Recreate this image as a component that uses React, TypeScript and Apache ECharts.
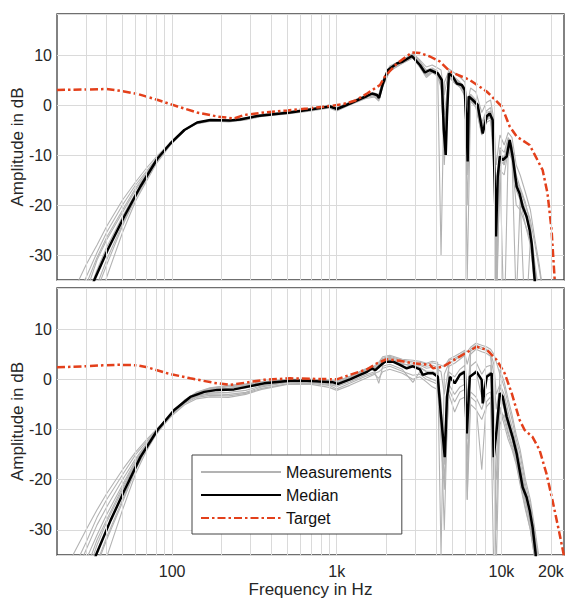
import React, { useEffect, useRef } from 'react';
import * as echarts from 'echarts';

// Shared frequency grid (Hz) for the individual measurements
const FREQ_M = [20, 25, 30, 35, 40, 50, 60, 70, 80, 100, 120, 140, 170, 220, 280, 350, 500, 700, 900, 1000, 1200, 1500, 1700, 1800, 1900, 2100, 2500, 2900, 3200, 3500, 3800, 4100, 4300, 4500, 4800, 5200, 5600, 6000, 6200, 6500, 7000, 7600, 8100, 8600, 9000, 9300, 9800, 10400, 11000, 11600, 12300, 13000, 14000, 15000, 16000, 17000, 18000, 20000];

// Top panel measurements (dB)
const TOP_M1 = [-43, -37.5, -32, -28, -24.3, -19, -15.4, -12.6, -10.4, -7.2, -5.0, -3.8, -3.3, -3.3, -2.9, -2.2, -1.6, -1.0, -0.4, -0.9, 0.2, 1.5, 2.3, 1.8, 4.8, 7.6, 8.8, 10.0, 8.6, 7.0, 7.4, 6.8, -30, 4.5, 6.8, 5.5, 4.6, 3.5, -20, 2.2, 1.0, -3.5, -1.2, -0.5, -5, -35, -9, -12, -7, -8.5, -15, -17, -20, -23, -28, -33, -38, -45];
const TOP_M2 = [-60, -54, -47, -40, -34.5, -25.5, -19.2, -15.2, -11.8, -7.6, -5.0, -3.6, -3.0, -3.0, -2.6, -1.9, -1.4, -0.8, -0.2, -0.6, 0.5, 1.9, 2.2, 1.2, 4.0, 7.0, 8.4, 9.6, 7.8, 6.0, 6.6, 5.8, 3.5, -8, 5.8, 4.4, 3.6, 2.0, -35, 0.8, -0.5, -6, -3.5, -3, -12, -40, -13, -14, -9, -11, -20, -21, -24, -28, -36, -42, -48, -55];
const TOP_M3 = [-50, -44, -37.5, -31, -27, -21.5, -17, -13.8, -11, -7.4, -5.0, -3.7, -3.1, -3.2, -2.8, -2.1, -1.5, -0.9, -0.2, -0.7, 0.4, 1.6, 1.8, 1.0, 3.8, 6.8, 8.4, 9.5, 7.5, 5.5, 6.5, 5.8, 4.2, -4, 6.0, 4.6, 3.8, 2.5, -8, 1.8, 0.8, -4, -1.5, -1.2, -6, -22, -8.5, -9.5, -6.5, -8, -14, -16.5, -19.5, -24, -32, -38, -44, -50];
const TOP_M4 = [-58, -51, -44, -37, -32, -24.2, -18.6, -14.8, -11.5, -7.5, -4.9, -3.5, -2.9, -3.0, -2.6, -1.9, -1.3, -0.7, 0.0, -0.5, 0.6, 2.0, 2.4, 2.0, 4.6, 7.5, 8.7, 10.2, 8.8, 6.8, 7.2, 6.5, 5.2, -10, 6.5, 5.2, 4.4, 3.2, -14, 1.2, 0.2, -6, -2.8, -2.2, -10, -30, -12, -45, -9, -10.5, -40, -19, -24, -27, -38, -44, -50, -55];
const TOP_M5 = [-46, -40, -34.5, -29.5, -25.5, -20, -16, -13.2, -10.8, -7.3, -4.9, -3.7, -3.2, -3.4, -3.0, -2.3, -1.8, -1.2, -0.6, -1.2, 0.0, 1.3, 1.6, 0.8, 3.6, 6.8, 8.3, 9.4, 7.6, 5.8, 6.6, 5.9, 4.0, -2, 5.6, 4.4, 3.6, 1.8, -6, 0.9, -0.3, -5.5, -3, -2.5, -9, -20, -11, -12, -8.5, -10, -17, -19, -45, -27, -34, -40, -46, -52];
const TOP_M6 = [-56, -49, -42.5, -36, -31, -23.8, -18.4, -14.6, -11.4, -7.4, -4.9, -3.6, -3.0, -3.1, -2.7, -2.0, -1.4, -0.8, -0.2, -0.7, 0.4, 1.8, 2.1, 1.5, 4.4, 7.3, 8.6, 9.9, 8.3, 6.5, 7.1, 6.4, 5.5, -12, 6.2, 5.0, 4.1, 3.0, -9, 1.6, 0.6, -4.5, -2, -1.5, -7, -45, -10, -10.5, -7.5, -9.2, -16, -18, -21, -25, -33, -39, -45, -50];
const TOP_M7 = [-52, -45.5, -39, -33, -28.5, -22.3, -17.6, -14.2, -11.1, -7.3, -4.9, -3.6, -3.0, -3.1, -2.7, -2.0, -1.5, -0.9, -0.3, -0.8, 0.3, 1.7, 2.0, 1.4, 4.2, 7.1, 8.5, 9.8, 8.0, 6.2, 6.8, 6.0, 4.6, -6, 6.0, 4.8, 3.9, 2.6, -12, 1.3, 0.3, -5, -2.4, -1.8, -8, -26, -10.5, -11, -8, -9.8, -16.5, -18, -22, -25.5, -35, -40, -46, -52];
const TOP_M8 = [-48, -42, -36, -30.5, -26.5, -21, -16.6, -13.5, -10.9, -7.3, -5.0, -3.7, -3.1, -3.2, -2.8, -2.1, -1.5, -0.9, -0.3, -0.8, 0.4, 1.8, 2.2, 1.9, 4.9, 7.8, 9.0, 10.3, 9.0, 7.6, 8.0, 7.4, 7.0, 2, 7.2, 6.4, 5.6, 4.6, 0, 3.4, 2.6, -1.5, 0.5, 1.0, -3, -12, -6, -8, -5.5, -6.5, -12, -14, -17.5, -21, -27, -32, -38, -45];
const TOP_MEASUREMENTS = [TOP_M1, TOP_M2, TOP_M3, TOP_M4, TOP_M5, TOP_M6, TOP_M7, TOP_M8];

// Bottom panel measurements (dB)
const BOT_M1 = [-41, -35, -30, -26, -22.8, -18, -14.5, -12, -10, -6.8, -4.2, -2.7, -1.8, -1.3, -1.0, -0.6, -0.1, -0.1, -0.3, -0.5, 0.4, 1.9, 2.5, 3.0, 4.2, 4.6, 3.8, 3.5, 3.4, 3.0, 3.3, 3.0, 2.8, 2.5, 4.0, 4.6, 5.2, 5.8, 5.5, 6.4, 7.2, 6.8, 6.5, 6.0, 5.0, 3.5, 1.0, -1.5, -5, -8, -12, -15, -21, -25, -31, -37, -43, -50];
const BOT_M2 = [-46, -40, -34, -29, -25.5, -20, -15.8, -12.8, -10.3, -6.7, -4.1, -2.6, -1.7, -1.2, -0.9, -0.5, 0.0, 0.0, -0.2, -0.4, 0.5, 2.0, 2.3, 2.8, 4.0, 4.4, 3.6, 3.2, 3.0, 2.6, 2.8, 2.4, -35, 1.0, 3.2, 3.8, 4.6, 5.2, 3.0, 5.6, 6.5, 6.0, 5.8, 5.2, 3.0, -3, -1.0, -3.0, -6.5, -9.5, -13, -16.5, -22, -26, -32, -38, -44, -50];
const BOT_M3 = [-52, -46, -39.5, -33, -28.5, -22, -16.8, -13.2, -10.8, -7.2, -5.0, -3.9, -3.5, -3.6, -3.0, -2.0, -1.0, -1.0, -1.6, -2.2, -1.2, 0.2, 1.0, 0.2, 1.5, 2.0, 1.2, 0.0, 0.5, -0.5, -1.5, -2.0, -9, -20, -3.0, -6.5, -4.0, -3.5, -24, -5.0, -6.0, -8, -5.5, -4.5, -18, -38, -6, -9, -12, -14, -17, -21, -26, -30, -36, -42, -48, -55];
const BOT_M4 = [-58, -51, -44, -37, -32, -24.5, -18, -13.8, -10.8, -6.8, -4.4, -3.4, -2.9, -3.0, -2.6, -1.5, -0.6, -0.6, -1.0, -1.4, -0.5, 0.9, 1.5, -0.8, 2.6, 3.0, 2.0, -0.6, 1.5, 0.5, 0.0, -0.5, -4, -17, -1.0, -3.0, -1.5, -1.0, -16, -2.5, -3.5, -6, -3.0, -2.5, -14, -20, -9, -7, -10.5, -13, -16, -20, -24, -29, -35, -41, -47, -55];
const BOT_M5 = [-48, -42, -36, -31, -27, -21, -16.2, -13, -10.6, -6.9, -4.5, -3.3, -2.7, -2.6, -2.2, -1.3, -0.5, -0.4, -0.8, -1.1, -0.1, 1.4, 2.0, 2.6, 3.6, 4.0, 3.0, 2.8, 2.4, 1.6, 1.6, 1.0, -6, -12, 1.5, 0.5, 2.0, 2.8, -8, 2.6, 3.5, 1.0, 2.5, 2.8, -10, -12, -3, -6, -9.5, -12, -15.5, -19.5, -24.5, -28.5, -35, -40, -46, -52];
const BOT_M6 = [-62, -55, -48, -41, -35.5, -26, -18.8, -14.2, -11.0, -6.7, -4.0, -2.8, -2.1, -1.8, -1.3, -0.7, -0.2, -0.2, -0.5, -0.8, 0.2, 1.6, 2.1, 2.5, 3.4, 3.8, 3.0, 2.8, 2.3, 1.5, 1.3, 0.8, -8, -15, 0.8, -0.8, 1.2, 1.8, -12, 0.6, 1.8, -3.5, 0.8, 1.5, -20, -8, -2.5, -5, -8, -11, -14, -18, -22.5, -27, -33, -39, -45, -52];
const BOT_M7 = [-55, -49, -43, -36.5, -31.5, -24, -17.8, -13.6, -10.9, -7.0, -4.7, -3.6, -3.2, -3.3, -2.8, -1.8, -0.9, -0.8, -1.2, -1.9, -0.8, 0.6, 1.2, 1.5, 2.2, 2.6, 1.6, 0.8, 1.0, 0.0, -0.5, -1.0, -12, -22, -2.0, -4.5, -2.5, -2.0, -20, -3.5, -4.5, -18, -4.5, -3.5, -40, -16, -5.5, -8, -11, -13.5, -16.5, -20.5, -25.5, -30, -36, -42, -48, -55];
const BOT_M8 = [-44, -38, -32.5, -27.5, -24, -19, -15, -12.4, -10.1, -6.8, -4.2, -2.8, -1.9, -1.5, -1.2, -0.7, -0.1, 0.0, -0.2, -0.4, 0.6, 2.1, 2.7, 3.4, 4.5, 4.8, 4.0, 3.8, 3.6, 3.2, 3.6, 3.4, -10, -30, 3.8, 4.2, 4.8, 5.5, -24, 6.0, 6.8, 6.4, 6.0, 5.4, -8, -30, 2.0, -0.5, -4, -7, -11, -14, -20, -24, -30, -36, -42, -50];
const BOT_M9 = [-50, -44, -38, -32, -28, -21.5, -16.5, -13.1, -10.6, -6.9, -4.3, -3.0, -2.3, -2.1, -1.7, -1.0, -0.3, -0.2, -0.5, -0.7, 0.3, 1.8, 2.4, 2.2, 3.8, 4.2, 3.2, 2.5, 2.8, 2.2, 2.4, 2.0, 1.5, -3, 2.6, 3.2, 4.0, 4.8, -4, 5.0, 6.0, 5.5, 5.2, 4.6, 1.0, -6, -1.5, -4, -7.5, -10.5, -14, -17.5, -23, -27, -33, -39, -45, -52];
const BOT_MEASUREMENTS = [BOT_M1, BOT_M2, BOT_M3, BOT_M4, BOT_M5, BOT_M6, BOT_M7, BOT_M8, BOT_M9];

// Median curves [Hz, dB]
const TOP_MEDIAN: [number, number][] = [[30, -40], [33.7, -35], [40.6, -29], [51.2, -22.3], [64.2, -16.3], [81.5, -10.7], [97.6, -7.7], [118.7, -5], [142, -3.5], [171, -3], [225, -3.1], [259, -2.9], [329, -2.2], [521, -1.5], [660, -1], [911, -0.3], [1004, -0.8], [1204, 0.3], [1385, 1.2], [1528, 1.8], [1638, 2.3], [1756, 2.0], [1806, 1.4], [1908, 4.3], [2047, 7], [2319, 8.3], [2521, 8.7], [2860, 9.8], [3200, 8.0], [3430, 6.5], [3680, 7.0], [4110, 6.3], [4345, 5], [4470, -5], [4590, -10], [4670, -2.3], [4800, 6.3], [5070, 5.7], [5360, 4.3], [5750, 4], [5990, 3], [6160, -5], [6240, -11.3], [6330, 1.7], [6700, 1], [7180, 0], [7700, -5.7], [8140, -2.3], [8490, -1.7], [8850, -3], [9100, -15], [9270, -26.3], [9500, -14.3], [9780, -10.3], [10190, -11], [10770, -10.3], [11230, -7], [11700, -10.3], [12380, -16.3], [12900, -17.7], [13460, -20.3], [14220, -22.3], [14840, -25], [15270, -27.7], [15930, -35], [16500, -40]];
const BOT_MEDIAN: [number, number][] = [[30, -42], [34.5, -35], [42.3, -28.1], [51.4, -22.1], [64.2, -15.5], [81.5, -10.1], [103, -6.1], [129, -3.5], [157, -2.5], [188, -2.1], [238, -2.0], [274, -1.6], [362, -0.8], [521, -0.3], [660, -0.3], [950, -0.6], [1020, -0.9], [1204, 0], [1385, 0.9], [1528, 1.5], [1638, 2.2], [1710, 1.8], [1806, 2.5], [1960, 3.5], [2210, 3.5], [2420, 2.9], [2660, 2.2], [2900, 2.6], [3200, 2.0], [3330, 0.9], [3570, 1.2], [3840, 1.2], [4110, 0.5], [4285, -6.8], [4530, -15.5], [4670, -3.5], [4870, 0.5], [5210, -0.8], [5590, 0.9], [5990, 1.5], [6160, -10.8], [6430, 0.5], [7070, 1.5], [7590, -0.1], [7700, -4.8], [8140, 0.5], [8730, 1.2], [8980, -15.5], [9350, -10.1], [9780, -2.8], [10190, -3.5], [10770, -7.5], [11230, -9.5], [11700, -11.5], [12380, -14.8], [12900, -18.1], [13460, -21.5], [14220, -23.5], [14840, -26.1], [15470, -29.5], [16140, -34.7], [16500, -40]];

// Target curves [Hz, dB]
const TOP_TARGET: [number, number][] = [[20, 3.0], [30, 3.1], [40, 3.2], [47, 2.9], [62, 2.2], [82, 1.0], [108, -0.3], [142, -1.5], [188, -2.3], [238, -2.7], [274, -2.0], [362, -1.5], [500, -1.1], [660, -0.7], [911, -0.2], [1100, 0.2], [1300, 0.9], [1528, 2.3], [1831, 4.0], [1960, 5.7], [2319, 8.3], [2860, 10.5], [3200, 10.4], [3680, 9.7], [4230, 8.7], [4870, 6.7], [6430, 5.0], [8140, 2.7], [10050, -0.3], [11230, -4.3], [12380, -6.3], [14840, -8.0], [17800, -13.0], [19060, -17.7], [20170, -25.0], [21040, -34.6], [21500, -40]];
const BOT_TARGET: [number, number][] = [[20, 2.4], [30, 2.6], [38, 2.8], [46.6, 2.9], [61.7, 2.8], [70.8, 2.4], [93.6, 1.2], [129, 0.2], [180, -0.7], [225, -1.1], [274, -0.7], [362, -0.1], [521, 0.2], [1000, 0], [1204, 0.9], [1528, 2.0], [1756, 3.2], [2012, 4.0], [2420, 3.7], [2900, 3.2], [3680, 2.9], [3840, 2.2], [4410, 2.5], [5360, 4.2], [7070, 6.5], [8140, 5.9], [9350, 3.9], [10470, 1.2], [11560, -2.8], [12900, -8.1], [13840, -10.1], [15470, -11.5], [17060, -14.1], [18780, -18.8], [20430, -24.1], [22560, -30.8], [23830, -34.7], [24000, -35.5]];

// Axis ticks / gridlines
const X_GRID = [30, 40, 50, 60, 70, 80, 90, 100, 200, 300, 400, 500, 600, 700, 800, 900, 1000, 2000, 3000, 4000, 5000, 6000, 7000, 8000, 9000, 10000, 20000];
const X_LABELS = [100, 1000, 10000];
const Y_LABELS = [-30, -20, -10, 0, 10];

const FONT = "'Liberation Sans', Arial, Helvetica, sans-serif";
const TEXT = '#262626';
const GRID_LINE = '#dadada';
const MEAS_COLOR = '#b3b3b3';
const TARGET_COLOR = '#e3401b';

function fmtFreq(v: number): string {
  return v >= 1000 ? v / 1000 + 'k' : String(v);
}

function buildOption(): any {
  const gridSeries = (idx: number) => ({
    type: 'line',
    xAxisIndex: idx,
    yAxisIndex: idx,
    data: [[20, -100]],
    showSymbol: false,
    symbol: 'none',
    silent: true,
    z: 1,
    lineStyle: { opacity: 0 },
    markLine: {
      silent: true,
      symbol: ['none', 'none'],
      animation: false,
      emphasis: { disabled: true },
      lineStyle: { color: GRID_LINE, width: 1, type: 'solid' },
      label: { show: false },
      data: X_GRID.map((f) => {
        const item: any = { xAxis: f };
        if (idx === 1 && f === 20000) {
          item.label = {
            show: true,
            position: 'start',
            formatter: '20k',
            distance: 8,
            color: TEXT,
            fontSize: 16,
            fontFamily: FONT,
          };
        }
        return item;
      }),
    },
  });

  const measSeries = (idx: number, arrs: number[][]) =>
    arrs.map((arr) => ({
      type: 'line',
      name: 'Measurements',
      xAxisIndex: idx,
      yAxisIndex: idx,
      data: FREQ_M.map((f, i) => [f, arr[i]]),
      showSymbol: false,
      symbol: 'none',
      silent: true,
      z: 2,
      lineStyle: { color: MEAS_COLOR, width: 1.1 },
      itemStyle: { color: MEAS_COLOR, opacity: 0 },
    }));

  const medianSeries = (idx: number, data: [number, number][]) => ({
    type: 'line',
    name: 'Median',
    xAxisIndex: idx,
    yAxisIndex: idx,
    data,
    showSymbol: false,
    symbol: 'none',
    silent: true,
    z: 3,
    lineStyle: { color: '#000000', width: 2.5 },
    itemStyle: { color: '#000000', opacity: 0 },
  });

  const targetSeries = (idx: number, data: [number, number][]) => ({
    type: 'line',
    name: 'Target',
    xAxisIndex: idx,
    yAxisIndex: idx,
    data,
    showSymbol: false,
    symbol: 'none',
    silent: true,
    z: 4,
    lineStyle: { color: TARGET_COLOR, width: 2.5, type: [8, 3, 2.5, 3] },
    itemStyle: { color: TARGET_COLOR, opacity: 0 },
  });

  const gridCommon = {
    left: 57,
    right: 1,
    show: true,
    borderColor: '#404040',
    borderWidth: 1.3,
    backgroundColor: 'transparent',
    containLabel: false,
    outerBoundsMode: 'none',
  };

  return {
    animation: false,
    backgroundColor: '#ffffff',
    textStyle: { fontFamily: FONT },
    grid: [
      { ...gridCommon, top: 14, height: 266 },
      { ...gridCommon, top: 288, height: 267 },
    ],
    xAxis: [0, 1].map((i) => ({
      type: 'log',
      logBase: 10,
      gridIndex: i,
      min: 20,
      max: 24000,
      axisLine: { show: false },
      axisTick: { show: false },
      splitLine: { show: false },
      axisLabel:
        i === 1
          ? {
              show: true,
              fontSize: 16,
              color: TEXT,
              margin: 8,
              fontFamily: FONT,
              formatter: (v: number) => (X_LABELS.indexOf(Math.round(v)) >= 0 ? fmtFreq(Math.round(v)) : ''),
            }
          : { show: false },
      name: i === 1 ? 'Frequency in Hz' : '',
      nameLocation: 'middle',
      nameGap: 26,
      nameTextStyle: { fontSize: 17, color: TEXT, fontFamily: FONT },
    })),
    yAxis: [0, 1].map((i) => ({
      type: 'value',
      gridIndex: i,
      min: -35,
      max: 18.2,
      axisLine: { show: false },
      axisTick: { show: false },
      splitLine: { show: true, lineStyle: { color: GRID_LINE, width: 1 } },
      axisLabel: {
        fontSize: 16,
        color: TEXT,
        margin: 5,
        fontFamily: FONT,
        formatter: (v: number) => (Y_LABELS.indexOf(v) >= 0 ? String(v) : ''),
      },
      name: 'Amplitude in dB',
      nameLocation: 'middle',
      nameGap: 31,
      nameMoveOverlap: false,
      nameTextStyle: { fontSize: 17, color: TEXT, fontFamily: FONT },
    })),
    legend: {
      show: true,
      data: ['Measurements', 'Median', 'Target'],
      orient: 'vertical',
      left: 192,
      top: 455,
      itemWidth: 80,
      itemHeight: 14,
      itemGap: 7,
      padding: [9, 10, 8, 8],
      backgroundColor: '#ffffff',
      borderColor: '#444444',
      borderWidth: 1,
      borderRadius: 0,
      selectedMode: false,
      itemStyle: { opacity: 0 },
      textStyle: { fontSize: 16, color: '#111111', fontFamily: FONT },
      z: 10,
    },
    series: [
      gridSeries(0),
      gridSeries(1),
      ...measSeries(0, TOP_MEASUREMENTS),
      ...measSeries(1, BOT_MEASUREMENTS),
      medianSeries(0, TOP_MEDIAN),
      medianSeries(1, BOT_MEDIAN),
      targetSeries(0, TOP_TARGET),
      targetSeries(1, BOT_TARGET),
    ],
  };
}

export default function App() {
  const ref = useRef<HTMLDivElement>(null);
  useEffect(() => {
    if (!ref.current) return;
    const chart = echarts.init(ref.current, undefined, { renderer: 'svg' });
    chart.setOption(buildOption());
    return () => chart.dispose();
  }, []);
  return (
    <div
      ref={ref}
      style={{ position: 'fixed', left: 0, top: 0, width: 565, height: 598, background: '#ffffff' }}
    />
  );
}
